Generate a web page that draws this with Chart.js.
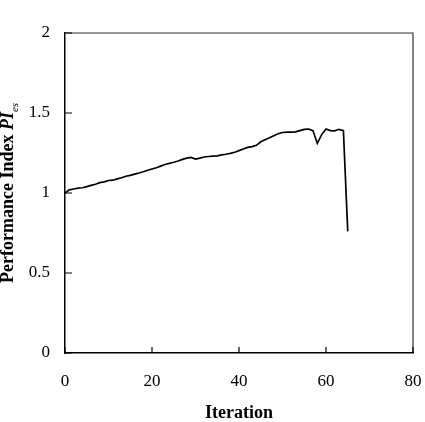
<!DOCTYPE html>
<html>
<head>
<meta charset="utf-8">
<script src="https://cdn.jsdelivr.net/npm/chart.js@4/dist/chart.umd.min.js"></script>
<style>
  html, body { margin: 0; padding: 0; background: #fff; }
  #wrap { width: 425px; height: 422px; }
</style>
</head>
<body>
<div id="wrap"><canvas id="grafica" width="425" height="422"></canvas></div>
<script>
// datos
var iteraciones = [0,1,2,3,4,5,6,7,8,9,10,11,12,13,14,15,16,17,18,19,20,21,22,23,24,25,26,27,28,29,30,31,32,33,34,35,36,37,38,39,40,41,42,43,44,45,46,47,48,49,50,51,52,53,54,55,56,57,58,59,60,61,62,63,64,65];
var indicePI = [1.00,1.02,1.025,1.03,1.033,1.04,1.048,1.055,1.065,1.07,1.078,1.08,1.088,1.095,1.105,1.11,1.118,1.125,1.133,1.142,1.15,1.158,1.168,1.178,1.185,1.192,1.20,1.21,1.218,1.222,1.212,1.218,1.225,1.228,1.23,1.232,1.238,1.242,1.248,1.255,1.265,1.275,1.285,1.29,1.298,1.32,1.333,1.345,1.358,1.37,1.378,1.38,1.38,1.382,1.39,1.398,1.40,1.39,1.31,1.365,1.40,1.39,1.388,1.398,1.39,0.76];
var ticksX = [0, 20, 40, 60, 80];
var ticksY = [0, 0.5, 1, 1.5, 2];

var fuente = "'Liberation Serif', 'Times New Roman', serif";

// marco superior/derecho y marcas hacia dentro
var marcoPlugin = {
    id: 'marco',
    afterDraw: function(chart) {
        var ctx = chart.ctx;
        var a = chart.chartArea;
        var sx = chart.scales.x, sy = chart.scales.y;
        ctx.save();
        ctx.strokeStyle = '#333';
        ctx.lineWidth = 1.2;
        ctx.beginPath();
        ctx.moveTo(a.left, a.top);
        ctx.lineTo(a.right, a.top);
        ctx.lineTo(a.right, a.bottom);
        ctx.stroke();
        ctx.strokeStyle = '#000';
        ctx.lineWidth = 1.2;
        ctx.beginPath();
        ticksX.forEach(function(v) {
            var px = sx.getPixelForValue(v);
            ctx.moveTo(px, a.bottom);
            ctx.lineTo(px, a.bottom - 6);
        });
        ticksY.forEach(function(v) {
            var py = sy.getPixelForValue(v);
            ctx.moveTo(a.left, py);
            ctx.lineTo(a.left + 7, py);
        });
        ctx.stroke();

        // titulo eje y: Performance Index PI_es
        var partes = [
            { t: 'Performance Index ', f: 'bold 18px ' + fuente, dy: 0 },
            { t: 'PI', f: 'bold italic 18px ' + fuente, dy: 0 },
            { t: 'es', f: 'italic 11px ' + fuente, dy: 5 }
        ];
        var total = 0;
        partes.forEach(function(p) { ctx.font = p.f; p.w = ctx.measureText(p.t).width; total += p.w; });
        var cy = (a.top + a.bottom) / 2;
        ctx.translate(13, cy);
        ctx.rotate(-Math.PI / 2);
        ctx.fillStyle = '#000';
        ctx.textBaseline = 'alphabetic';
        ctx.textAlign = 'left';
        var x0 = -total / 2;
        partes.forEach(function(p) {
            ctx.font = p.f;
            ctx.fillText(p.t, x0, p.dy);
            x0 += p.w;
        });
        ctx.restore();
    }
};

function etiqueta(v) { return String(v); }

var config = {
    type: 'line',
    data: {
        datasets: [{
            data: iteraciones.map(function(it, i) { return { x: it, y: indicePI[i] }; }),
            borderColor: '#000',
            borderWidth: 1.7,
            pointRadius: 0,
            tension: 0,
            fill: false
        }]
    },
    options: {
        responsive: false,
        animation: false,
        events: [],
        layout: { padding: { top: 33, right: 12, left: 0, bottom: 0 } },
        plugins: {
            legend: { display: false },
            tooltip: { enabled: false }
        },
        scales: {
            x: {
                type: 'linear',
                min: 0,
                max: 80,
                afterBuildTicks: function(scale) { scale.ticks = ticksX.map(function(v) { return { value: v }; }); },
                afterFit: function(scale) { scale.height = 69; scale.paddingLeft = 0; scale.paddingRight = 0; },
                grid: { display: true, drawOnChartArea: false, drawTicks: false },
                border: { display: true, color: '#000', width: 1.5 },
                ticks: { color: '#000', padding: 18, maxRotation: 0, callback: etiqueta, font: { family: fuente, size: 17 } },
                title: {
                    display: true,
                    text: 'Iteration',
                    color: '#000',
                    padding: { top: 0, bottom: 0 },
                    font: { family: fuente, size: 18, weight: 'bold', lineHeight: 1 }
                }
            },
            y: {
                min: 0,
                max: 2,
                afterBuildTicks: function(scale) { scale.ticks = ticksY.map(function(v) { return { value: v }; }); },
                afterFit: function(scale) { scale.width = 65; scale.paddingTop = 0; scale.paddingBottom = 0; },
                grid: { display: true, drawOnChartArea: false, drawTicks: false },
                border: { display: true, color: '#000', width: 1.5 },
                ticks: { color: '#000', padding: 15, callback: etiqueta, font: { family: fuente, size: 17 } }
            }
        }
    },
    plugins: [marcoPlugin]
};

var ctx = document.getElementById('grafica').getContext('2d');
new Chart(ctx, config);
</script>
</body>
</html>
